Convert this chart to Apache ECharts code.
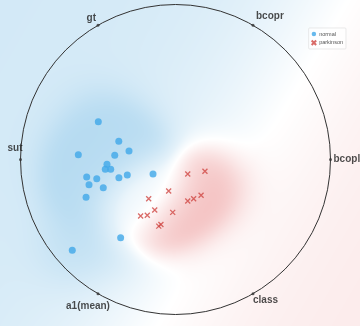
<!DOCTYPE html>
<html>
<head>
<meta charset="utf-8">
<script src="https://cdn.jsdelivr.net/npm/echarts@6/dist/echarts.min.js"></script>
<style>
  html, body { margin: 0; padding: 0; background: #fff; }
  #chart { width: 360px; height: 326px; }
</style>
</head>
<body>
<div id="chart"></div>
<script>
// RadViz projection: dimension anchors on the unit circle and projected samples.
const anchorNames = ['bcopl', 'bcopr', 'gt', 'sut', 'a1(mean)', 'class'];
const anchorAngles = [0, 60, 120, 180, 240, 300];

// Projected samples, class "normal"
const normalX = [-0.498, -0.366, -0.627, -0.392, -0.300, -0.442, -0.453, -0.418, -0.573,
                 -0.508, -0.365, -0.311, -0.145, -0.558, -0.466, -0.577, -0.354, -0.666];
const normalY = [0.244, 0.117, 0.031, 0.027, 0.055, -0.031, -0.063, -0.063, -0.113,
                 -0.124, -0.117, -0.100, -0.094, -0.163, -0.182, -0.244, -0.505, -0.586];

// Projected samples, class "parkinson"
const parkinsonX = [0.079, 0.190, -0.044, -0.173, 0.079, 0.117, 0.165, -0.134, -0.018,
                    -0.225, -0.182, -0.108, -0.094];
const parkinsonY = [-0.094, -0.076, -0.203, -0.253, -0.268, -0.253, -0.231, -0.326, -0.341,
                    -0.365, -0.360, -0.430, -0.419];

const seriesNames = ['normal', 'parkinson'];

const normalData = normalX.map((x, i) => [x, normalY[i]]);
const parkinsonData = parkinsonX.map((x, i) => [x, parkinsonY[i]]);
const anchorData = anchorNames.map((n, i) => {
  const a = anchorAngles[i] * Math.PI / 180;
  return { name: n, value: [Math.cos(a), Math.sin(a)] };
});

// label placement for each anchor
const anchorLabelStyle = {
  'bcopl':    { align: 'left',   offset: [3, 0] },
  'bcopr':    { align: 'left',   offset: [3, -9] },
  'gt':       { align: 'right',  offset: [-2, -7] },
  'sut':      { align: 'right',  offset: [2, -11] },
  'a1(mean)': { align: 'center', offset: [-10, 13] },
  'class':    { align: 'left',   offset: [0, 7] }
};

const BLUE_FULL = [150, 203, 235];
const RED_FULL = [236, 150, 150];

// soft class-probability shading from the sample positions
function shade(ux, uy) {
  let nb = 0, nr = 0;
  const sb = 2 * 0.17 * 0.17;
  const srx = 2 * 0.18 * 0.18, sry = 2 * 0.14 * 0.14;
  for (let i = 0; i < normalData.length; i++) {
    const dx = ux - normalData[i][0], dy = uy - normalData[i][1];
    nb += Math.exp(-(dx * dx + dy * dy) / sb);
  }
  for (let i = 0; i < parkinsonData.length; i++) {
    const dx = ux - parkinsonData[i][0], dy = uy - parkinsonData[i][1];
    nr += Math.exp(-(dx * dx) / srx - (dy * dy) / sry);
  }
  const near = 0.5 * Math.tanh(nb * 0.6) - 0.62 * Math.tanh(nr * 0.45);
  let base = Math.tanh((1.05 - 2.05 * ux + 1.2 * uy) * 0.6);
  base = base > 0 ? base * 0.42 : base * 0.2;
  return near + (1 - Math.abs(near)) * base;
}

let bgCanvas = null;
function buildBackground(api) {
  const W = api.getWidth(), H = api.getHeight();
  const o = api.coord([0, 0]), p = api.coord([1, 1]);
  const sx = p[0] - o[0], sy = p[1] - o[1];
  const cv = document.createElement('canvas');
  cv.width = W; cv.height = H;
  const ctx = cv.getContext('2d');
  const img = ctx.createImageData(W, H);
  for (let j = 0; j < H; j++) {
    for (let i = 0; i < W; i++) {
      const v = shade((i + 0.5 - o[0]) / sx, (j + 0.5 - o[1]) / sy);
      const full = v >= 0 ? BLUE_FULL : RED_FULL;
      const t = Math.min(1, Math.abs(v));
      const k = (j * W + i) * 4;
      img.data[k] = 255 + (full[0] - 255) * t;
      img.data[k + 1] = 255 + (full[1] - 255) * t;
      img.data[k + 2] = 255 + (full[2] - 255) * t;
      img.data[k + 3] = 255;
    }
  }
  ctx.putImageData(img, 0, 0);
  return cv;
}

const chart = echarts.init(document.getElementById('chart'), null, { renderer: 'canvas' });

chart.setOption({
  animation: false,
  backgroundColor: '#ffffff',
  grid: { left: 20.5, top: 4.5, width: 310, height: 310 },
  xAxis: { type: 'value', min: -1, max: 1, show: false },
  yAxis: { type: 'value', min: -1, max: 1, show: false },
  legend: {
    data: [
      { name: 'normal' },
      { name: 'parkinson' }
    ],
    orient: 'vertical',
    right: 14,
    top: 28,
    itemWidth: 4.5,
    itemHeight: 4.5,
    itemGap: 2.5,
    padding: [3, 3, 3, 2],
    backgroundColor: 'rgba(255,255,255,0.55)',
    borderColor: '#dcdcdc',
    borderWidth: 0.6,
    borderRadius: 1,
    textStyle: { fontSize: 5.5, color: '#555', fontFamily: 'Liberation Sans', padding: [0, 0, 0, -2] }
  },
  series: [
    {
      type: 'custom',
      name: 'shading',
      silent: true,
      clip: false,
      z: 0,
      data: [[0, 0]],
      renderItem: function (params, api) {
        if (!bgCanvas) bgCanvas = buildBackground(api);
        return {
          type: 'image',
          style: { image: bgCanvas, x: 0, y: 0, width: api.getWidth(), height: api.getHeight() }
        };
      }
    },
    {
      type: 'custom',
      name: 'ring',
      silent: true,
      clip: false,
      z: 1,
      data: [[0, 0]],
      renderItem: function (params, api) {
        const c = api.coord([0, 0]);
        const e = api.coord([1, 0]);
        return {
          type: 'circle',
          shape: { cx: c[0], cy: c[1], r: e[0] - c[0] },
          style: { fill: 'none', stroke: '#333', lineWidth: 1 }
        };
      }
    },
    {
      type: 'scatter',
      name: 'anchors',
      z: 2,
      symbol: 'circle',
      symbolSize: 3,
      itemStyle: { color: '#333' },
      data: anchorData.map(d => ({
        name: d.name,
        value: d.value,
        label: {
          show: true,
          position: 'inside',
          formatter: d.name,
          align: anchorLabelStyle[d.name].align,
          verticalAlign: 'middle',
          offset: anchorLabelStyle[d.name].offset,
          fontSize: 10,
          fontWeight: 'bold',
          fontFamily: 'Liberation Sans',
          color: '#1e1e1e'
        }
      }))
    },
    {
      type: 'scatter',
      name: seriesNames[0],
      z: 3,
      symbol: 'circle',
      symbolSize: 7,
      itemStyle: { color: '#40a8e8' },
      data: normalData
    },
    {
      type: 'scatter',
      name: seriesNames[1],
      z: 3,
      symbol: 'path://M0,0L10,10M10,0L0,10',
      symbolSize: 5,
      itemStyle: { color: 'rgba(0,0,0,0)', borderColor: '#d04642', borderWidth: 1.3 },
      data: parkinsonData
    }
  ]
});
</script>
</body>
</html>
